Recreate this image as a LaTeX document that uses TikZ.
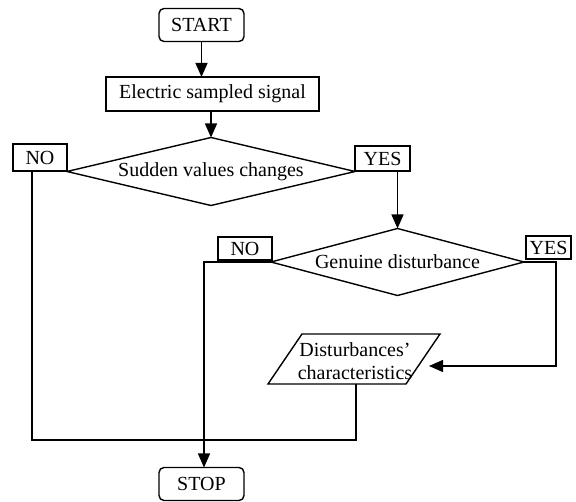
\documentclass[tikz,border=0pt]{standalone}
\usepackage{fontspec}
\setmainfont{Liberation Serif}
\usetikzlibrary{shapes.geometric,arrows.meta}
\begin{document}
\begin{tikzpicture}[x=1pt,y=-1pt,
  every node/.style={inner sep=0pt,outer sep=0pt,font=\fontsize{20}{23}\selectfont},
  ln/.style={line width=1.4pt},
  arr/.style={ln,-{Triangle[length=14pt,width=12pt]}},
  term/.style={draw,ln,rectangle,rounded corners=5pt,minimum width=85pt,minimum height=33pt},
  proc/.style={draw,ln,rectangle,minimum width=213pt,minimum height=34pt},
  dec/.style={draw,ln,diamond},
  tag/.style={draw,ln,rectangle,minimum height=24pt}]
\useasboundingbox (0,0) rectangle (576,502);
% nodes
\node[term] (start) at (201.5,25) {START};
\node[proc] (elec) at (212.5,94) {Electric sampled signal};
\node[dec,aspect=4.2,minimum width=288pt,minimum height=68pt] (d1) at (211,171.5) {Sudden values changes};
\node[tag,minimum width=54pt,minimum height=27pt] (no1) at (40,157.5) {NO};
\node[tag,minimum width=55pt,minimum height=25pt] (yes1) at (382.5,158.5) {YES};
\node[dec,aspect=3.8,minimum width=253pt,minimum height=67pt] (d2) at (397.5,262) {Genuine disturbance};
\node[tag,minimum width=54pt,minimum height=23pt] (no2) at (245,248.5) {NO};
\node[tag,minimum width=45pt,minimum height=23pt] (yes2) at (548.5,247.5) {YES};
% parallelogram (output)
\coordinate (ptl) at (302,334);
\coordinate (ptr) at (440,334);
\coordinate (pbr) at (406,384);
\coordinate (pbl) at (268,384);
\draw[ln] (ptl) -- (ptr) -- (pbr) -- (pbl) -- cycle;
\node[align=center] (par) at (355,361) {Disturbances’\\characteristics};
\node[term] (stop) at (201.5,484) {STOP};
% helper coordinates
\coordinate (pbot) at (356,384);
\coordinate (pin) at (429,366);
\coordinate (ycorner) at (556,366);
\coordinate (lc) at (32,440);
\coordinate (rc) at (356,440);
\coordinate (j) at (204,440);
% connectors
\draw[arr] (start.south) -- (start.south |- elec.north);
\draw[arr] (d1.north |- elec.south) -- (d1.north);
\draw[arr] (d1.east) -| (d2.north);
\draw[ln] (d1.west) -| (lc) -- (rc) -- (pbot);
\draw[arr] (d2.west) -| (j |- stop.north);
\draw[arr] (d2.east) -| (ycorner) -- (pin);
\end{tikzpicture}
\end{document}
